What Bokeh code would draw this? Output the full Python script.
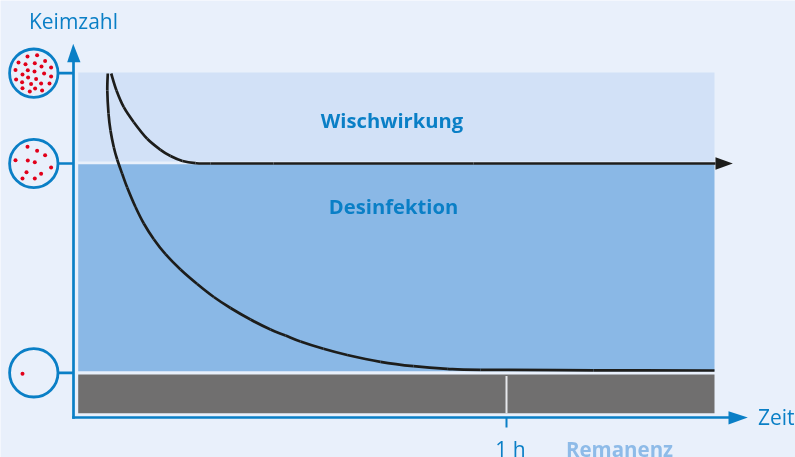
from bokeh.plotting import figure
from bokeh.models import Range1d
from bokeh.core.properties import value
from bokeh.embed import file_html
from bokeh.resources import INLINE

# Units: one unit = one screen pixel; origin at the crossing of the axes; 1 h = 433 units
HOUR = 433

wisch_x = [37.7, 43, 50.3, 60.3, 73.7, 87, 97, 109, 122, 137, 200, 400, 642]
wisch_y = [344, 327, 310.3, 295.3, 278.7, 267.7, 261.5, 256.5, 254.3, 254, 254, 254, 254]

desinf_x = [34.3, 33.8, 35, 37, 40.3, 43.7, 48.7, 53.7, 62, 70.3, 80.3, 92, 107, 123.7, 140.3,
            157, 177, 197, 212, 227, 250, 273.7, 307, 340, 373.7, 407, 520, 641]
desinf_y = [344, 327, 304, 287, 270.3, 258, 243.7, 230, 210.5, 194, 178.3, 163.3, 148, 133.5, 120.5,
            109.5, 98, 88, 82, 76, 68.7, 62.5, 55.7, 51.3, 48.7, 47.7, 47.2, 47]

sample_levels = [344.3, 254, 44.7]
dots_full_dx = [-6.3, 3.3, 11.3, -15.3, -8.3, 1, 7.7, 17.3, -18.3, -6, 0.7, -11.3, 10.3, -5.7,
                2.3, 17.3, -17.7, -11.7, -2.7, 7.3, 15.7, -11.3, 1.3, -4, 8.3]
dots_full_dy = [16.7, 18, 12.3, 10.7, 9, 10, 6.7, 5.7, 3.3, 3, 1.7, -1.3, -0.3, -4.3,
                -5.7, -3.3, -6.3, -9, -10.7, -10.3, -10.3, -15, -15.3, -18.3, -17.3]
dots_mid_dx = [-6.3, 3.3, 11.3, -18.3, -6, 1, 17.3, -7.3, 7.3, -11.3, 1]
dots_mid_dy = [16.7, 12.7, 8.3, 3.3, 3, 1.3, -4, -8.7, -10.3, -15, -15]
dots_low_dx = [-11.3]
dots_low_dy = [-1]

BG = "#e9f0fb"
LIGHT = "#d2e1f7"
MID = "#8ab8e6"
GRAY = "#706f6f"
BLUE = "#0a7fc6"
RED = "#e2001a"
BLACK = "#1d1d1b"
PALE = "#8ebbe8"
FONT = value("Open Sans")

p = figure(width=795, height=457, output_backend="svg", toolbar_location=None,
           x_range=Range1d(-73, 722), y_range=Range1d(-40, 417),
           min_border=0, background_fill_color=BG, border_fill_color=BG,
           outline_line_color=None, x_axis_type=None, y_axis_type=None,
           styles={"position": "fixed", "left": "0", "top": "0"})
p.grid.visible = False


def smooth(xs, ys, **style):
    """Draw a curve through the read points with the library's bezier glyph."""
    n = len(xs)
    cx0, cy0, cx1, cy1 = [], [], [], []
    for i in range(n - 1):
        a, d = max(i - 1, 0), min(i + 2, n - 1)
        cx0.append(xs[i] + (xs[i + 1] - xs[a]) / 6)
        cy0.append(ys[i] + (ys[i + 1] - ys[a]) / 6)
        cx1.append(xs[i + 1] - (xs[d] - xs[i]) / 6)
        cy1.append(ys[i + 1] - (ys[d] - ys[i]) / 6)
    p.bezier(x0=xs[:-1], y0=ys[:-1], x1=xs[1:], y1=ys[1:],
             cx0=cx0, cy0=cy0, cx1=cx1, cy1=cy1, **style)


# bands
p.quad(left=[4.7], right=[641], bottom=[256], top=[345], fill_color=LIGHT, line_color=None)
p.quad(left=[4.7], right=[641], bottom=[46.3], top=[253.3], fill_color=MID, line_color=None)
p.quad(left=[4.7], right=[641], bottom=[4.3], top=[43], fill_color=GRAY, line_color=None)
p.segment(x0=[HOUR], x1=[HOUR], y0=[4.3], y1=[41.5], line_color="#e6e8ec", line_width=2)

# axes
p.segment(x0=[0, -1.3], x1=[0, 657], y0=[-1.3, 0], y1=[360, 0], line_color=BLUE, line_width=2.7)
p.patch(x=[-0.3, -6.3, 7], y=[373.7, 355.3, 355.3], fill_color=BLUE, line_color=None)
p.patch(x=[655, 674.3, 655], y=[6.3, 0, -7], fill_color=BLUE, line_color=None)
p.segment(x0=[HOUR], x1=[HOUR], y0=[0], y1=[-10], line_color=BLUE, line_width=2)

# connectors and samples
p.segment(x0=[-15] * 3, x1=[0] * 3, y0=sample_levels, y1=sample_levels, line_color=BLUE, line_width=2.7)
p.circle(x=[-39.7] * 3, y=sample_levels, radius=24.2, fill_color=BG, line_color=BLUE, line_width=2.8)
for level, dx, dy in ((sample_levels[0], dots_full_dx, dots_full_dy),
                      (sample_levels[1], dots_mid_dx, dots_mid_dy),
                      (sample_levels[2], dots_low_dx, dots_low_dy)):
    p.circle(x=[-39.7 + v for v in dx], y=[level + v for v in dy], radius=2,
             fill_color=RED, line_color=None)

# curves
smooth(wisch_x, wisch_y, line_color=BLACK, line_width=2.7)
smooth(desinf_x, desinf_y, line_color=BLACK, line_width=2.7)
p.patch(x=[642, 659.3, 642], y=[260.3, 254, 247.7], fill_color=BLACK, line_color=None)

# texts
p.text(x=[0], y=[397], text=["Keimzahl"], text_font=FONT, text_font_size="21px",
       text_color=BLUE, text_align="center", text_baseline="alphabetic")
p.text(x=[684.5], y=[1], text=["Zeit"], text_font=FONT, text_font_size="21px",
       text_color=BLUE, text_align="left", text_baseline="alphabetic")
p.text(x=[437], y=[-31], text=["1 h"], text_font=FONT, text_font_size="21px",
       text_color=BLUE, text_align="center", text_baseline="alphabetic")
p.text(x=[546], y=[-31], text=["Remanenz"], text_font=FONT, text_font_size="20.5px",
       text_font_style="bold", text_color=PALE, text_align="center", text_baseline="alphabetic")
p.text(x=[318.5], y=[298], text=["Wischwirkung"], text_font=FONT, text_font_size="20.2px",
       text_font_style="bold", text_color=BLUE, text_align="center", text_baseline="alphabetic")
p.text(x=[320], y=[212], text=["Desinfektion"], text_font=FONT, text_font_size="20.2px",
       text_font_style="bold", text_color=BLUE, text_align="center", text_baseline="alphabetic")

open("out.html", "w").write(file_html(p, INLINE))
